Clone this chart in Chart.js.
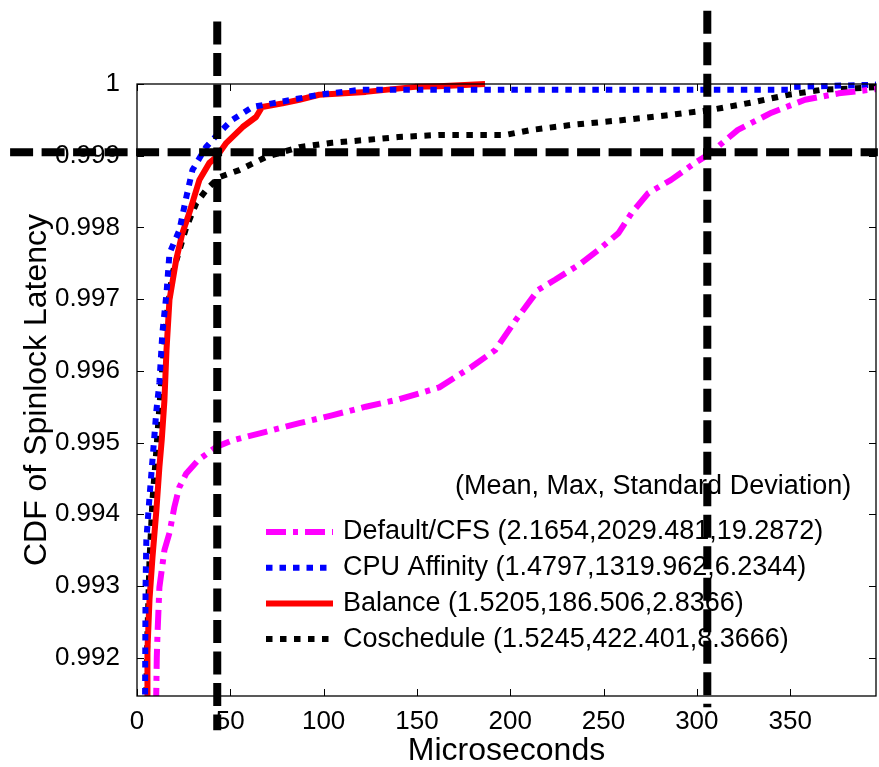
<!DOCTYPE html>
<html>
<head>
<meta charset="utf-8">
<title>CDF of Spinlock Latency</title>
<script src="https://cdn.jsdelivr.net/npm/chart.js@4.4.1/dist/chart.umd.min.js"></script>
<style>
    html, body { margin: 0; padding: 0; background: #fff; }
    canvas { display: block; }
</style>
</head>
<body>
<canvas id="cdfChart" width="879" height="767"></canvas>
<script>
'use strict';

// ── Data ──────────────────────────────────────────────────
const cfsX = [10.2, 10.6, 11, 12, 14.7, 17.4, 20, 22.7, 26.4, 33, 42.5, 51, 69, 87, 104.5, 122.6, 140, 162, 179, 192, 203, 215, 224, 238, 247, 258, 265, 274, 286, 299, 304, 311, 322, 340, 358, 376, 393, 400];
const cfsY = [0.9913, 0.9920, 0.99234, 0.99298, 0.9935, 0.99374, 0.9941, 0.99438, 0.99457, 0.99476, 0.99494, 0.99503, 0.99515, 0.99527, 0.99538, 0.9955, 0.9956, 0.99577, 0.99605, 0.99629, 0.99671, 0.99713, 0.99727, 0.9975, 0.99768, 0.99792, 0.9982, 0.99848, 0.99866, 0.9989, 0.99898, 0.99912, 0.99936, 0.9996, 0.99978, 0.99987, 0.99992, 0.99994];

const affinityX = [4.3, 4.5, 4.6, 5, 6.7, 8.3, 10.4, 12, 13.6, 15.8, 17.4, 22.7, 26.4, 29.7, 37, 44, 51, 62, 72.5, 97.6, 120, 349, 352, 395, 400];
const affinityY = [0.9913, 0.9925, 0.9930, 0.99364, 0.99424, 0.99476, 0.99545, 0.99583, 0.99653, 0.99708, 0.99764, 0.99796, 0.99842, 0.9988, 0.99912, 0.99932, 0.9995, 0.99968, 0.99973, 0.99985, 0.99992, 0.99992, 0.99996, 0.99999, 1.0];

const balanceX = [5.4, 5.6, 6.7, 8.3, 10.4, 12, 13.3, 14.7, 15.8, 17.4, 21, 24.3, 28, 33.4, 38.8, 42.5, 47.9, 56.6, 63.8, 67, 78, 87, 97.6, 122.6, 149, 161.8, 186.5];
const balanceY = [0.9913, 0.99211, 0.99281, 0.9934, 0.99406, 0.99466, 0.99505, 0.99559, 0.99629, 0.99699, 0.99755, 0.99792, 0.9982, 0.99866, 0.9989, 0.99898, 0.99918, 0.9994, 0.99954, 0.99968, 0.99973, 0.99978, 0.99985, 0.99989, 0.99996, 0.99997, 1.0];

const coscheduleX = [4.8, 5.6, 6.7, 8.3, 10.4, 12, 13.6, 15.8, 19, 22.7, 26.4, 31.8, 37, 44, 54.8, 69, 87, 104.5, 122.6, 140, 162, 197.5, 211.5, 233, 261.6, 286, 308, 331, 349, 367, 385, 400];
const coscheduleY = [0.9913, 0.99234, 0.99336, 0.9942, 0.9949, 0.9955, 0.99605, 0.99675, 0.99736, 0.99768, 0.998, 0.99834, 0.99852, 0.9987, 0.9988, 0.99898, 0.99912, 0.99918, 0.99922, 0.99926, 0.99929, 0.99929, 0.99936, 0.99943, 0.9995, 0.99957, 0.99964, 0.99975, 0.99985, 0.99992, 0.99994, 0.99996];

const seriesNames = [
    'Default/CFS (2.1654,2029.481,19.2872)',
    'CPU Affinity (1.4797,1319.962,6.2344)',
    'Balance (1.5205,186.506,2.8366)',
    'Coschedule (1.5245,422.401,8.3666)',
];
const legendTitle = '(Mean, Max, Standard Deviation)';

const xTicks = [0, 50, 100, 150, 200, 250, 300, 350];
const yTicks = [0.992, 0.993, 0.994, 0.995, 0.996, 0.997, 0.998, 0.999, 1];
const yTickLabels = ['0.992', '0.993', '0.994', '0.995', '0.996', '0.997', '0.998', '0.999', '1'];

// dashed marker lines (they run past the axes, as in the figure)
const markerX = [43, 305.6];
const markerXTop = [1.00087, 1.00102];
const markerXBottom = [0.99099, 0.99131];
const markerY = 0.99905;
const markerYFrom = -68;
const markerYTo = 397;

const FONT = '"Liberation Sans", Arial, Helvetica, sans-serif';

const toPoints = (xs, ys) => xs.map((x, i) => ({ x: x, y: ys[i] }));

// ── Plugins ───────────────────────────────────────────────
// MATLAB-like box with inward ticks on all four sides
const boxTicks = {
    id: 'boxTicks',
    afterDatasetsDraw(chart) {
        const { ctx, chartArea: a, scales: { x, y } } = chart;
        const len = 7;
        ctx.save();
        ctx.strokeStyle = '#000';
        ctx.lineWidth = 1.3;
        ctx.strokeRect(a.left, a.top, a.right - a.left, a.bottom - a.top);
        ctx.lineWidth = 1;
        ctx.beginPath();
        xTicks.forEach(v => {
            const px = Math.round(x.getPixelForValue(v)) + 0.5;
            ctx.moveTo(px, a.bottom); ctx.lineTo(px, a.bottom - len);
            ctx.moveTo(px, a.top); ctx.lineTo(px, a.top + len);
        });
        yTicks.forEach(v => {
            const py = Math.round(y.getPixelForValue(v)) + 0.5;
            ctx.moveTo(a.left, py); ctx.lineTo(a.left + len, py);
            ctx.moveTo(a.right, py); ctx.lineTo(a.right - len, py);
        });
        ctx.stroke();
        ctx.restore();
    }
};

// legend drawn inside the axes, lower right
const innerLegend = {
    id: 'innerLegend',
    afterDatasetsDraw(chart) {
        const { ctx, chartArea: a } = chart;
        const sampleX0 = a.left + 129;
        const sampleX1 = a.left + 196;
        const textX = a.left + 206;
        const titleY = a.top + 403;
        const rowY0 = a.top + 448;
        const rowGap = 35.7;

        ctx.save();
        ctx.fillStyle = '#000';
        ctx.font = '27px ' + FONT;
        ctx.textBaseline = 'middle';
        ctx.textAlign = 'left';
        ctx.fillText(legendTitle, a.left + 318, titleY);

        chart.data.datasets.forEach((ds, i) => {
            const yy = rowY0 + i * rowGap;
            ctx.save();
            ctx.strokeStyle = ds.borderColor;
            ctx.lineWidth = ds.borderWidth;
            ctx.lineCap = 'butt';
            ctx.setLineDash(ds.borderDash || []);
            ctx.beginPath();
            ctx.moveTo(sampleX0, yy);
            ctx.lineTo(sampleX1, yy);
            ctx.stroke();
            ctx.restore();
            ctx.fillText(seriesNames[i], textX, yy);
        });
        ctx.restore();
    }
};

// thick black dashed marker lines, drawn last
const markerLines = {
    id: 'markerLines',
    afterDraw(chart) {
        const { ctx, scales: { x, y } } = chart;
        ctx.save();
        ctx.strokeStyle = '#000';
        ctx.lineWidth = 8;
        ctx.lineCap = 'butt';
        ctx.setLineDash([23, 8.5]);
        markerX.forEach((v, i) => {
            const px = x.getPixelForValue(v);
            ctx.beginPath();
            ctx.moveTo(px, y.getPixelForValue(markerXTop[i]));
            ctx.lineTo(px, y.getPixelForValue(markerXBottom[i]));
            ctx.stroke();
        });
        const py = y.getPixelForValue(markerY);
        ctx.beginPath();
        ctx.moveTo(x.getPixelForValue(markerYFrom), py);
        ctx.lineTo(x.getPixelForValue(markerYTo), py);
        ctx.stroke();
        ctx.restore();
    }
};

// ── Chart ─────────────────────────────────────────────────
const lineStyle = {
    pointRadius: 0,
    pointHoverRadius: 0,
    borderWidth: 6,
    tension: 0,
    fill: false,
    borderCapStyle: 'butt',
    borderJoinStyle: 'round',
    clip: { left: 0, right: 0, top: 4, bottom: 0 },
};

const chartConfig = {
    type: 'line',
    data: {
        datasets: [
            Object.assign({
                label: seriesNames[0],
                data: toPoints(cfsX, cfsY),
                borderColor: '#ff00ff',
                borderDash: [20, 7, 5, 7],
            }, lineStyle),
            Object.assign({
                label: seriesNames[1],
                data: toPoints(affinityX, affinityY),
                borderColor: '#0000ff',
                borderDash: [6.5, 7],
            }, lineStyle),
            Object.assign({
                label: seriesNames[2],
                data: toPoints(balanceX, balanceY),
                borderColor: '#ff0000',
            }, lineStyle),
            Object.assign({
                label: seriesNames[3],
                data: toPoints(coscheduleX, coscheduleY),
                borderColor: '#000000',
                borderDash: [6.5, 7.5],
            }, lineStyle),
        ],
    },
    options: {
        responsive: false,
        animation: false,
        devicePixelRatio: 1,
        layout: { padding: { top: 84, right: 3, left: 0, bottom: 0 } },
        plugins: {
            legend: { display: false },
            tooltip: { enabled: false },
        },
        scales: {
            x: {
                type: 'linear',
                min: 0,
                max: 396,
                grid: { display: false },
                border: { display: false },
                afterBuildTicks: (scale) => { scale.ticks = xTicks.map(v => ({ value: v })); },
                afterFit: (scale) => { scale.height = 71; },
                ticks: {
                    autoSkip: false,
                    maxRotation: 0,
                    padding: 2,
                    color: '#000',
                    font: { family: FONT, size: 26 },
                    callback: (value) => String(value),
                },
                title: {
                    display: true,
                    text: 'Microseconds',
                    color: '#000',
                    padding: { top: 0, bottom: 0 },
                    font: { family: FONT, size: 32, lineHeight: 1 },
                },
            },
            y: {
                type: 'linear',
                min: 0.991466,
                max: 1,
                grid: { display: false },
                border: { display: false },
                afterBuildTicks: (scale) => { scale.ticks = yTicks.map(v => ({ value: v })); },
                afterFit: (scale) => { scale.width = 137; },
                ticks: {
                    autoSkip: false,
                    padding: 9,
                    color: '#000',
                    font: { family: FONT, size: 26 },
                    callback: (value, index) => yTickLabels[index],
                },
                title: {
                    display: true,
                    text: 'CDF of Spinlock Latency',
                    color: '#000',
                    padding: { top: 21, bottom: 0 },
                    font: { family: FONT, size: 32, lineHeight: 1 },
                },
            },
        },
    },
    plugins: [boxTicks, innerLegend, markerLines],
};

try {
    new Chart(document.getElementById('cdfChart'), chartConfig);
} catch (err) {
    console.error('Error creating Chart.js instance:', err);
}
</script>
</body>
</html>
